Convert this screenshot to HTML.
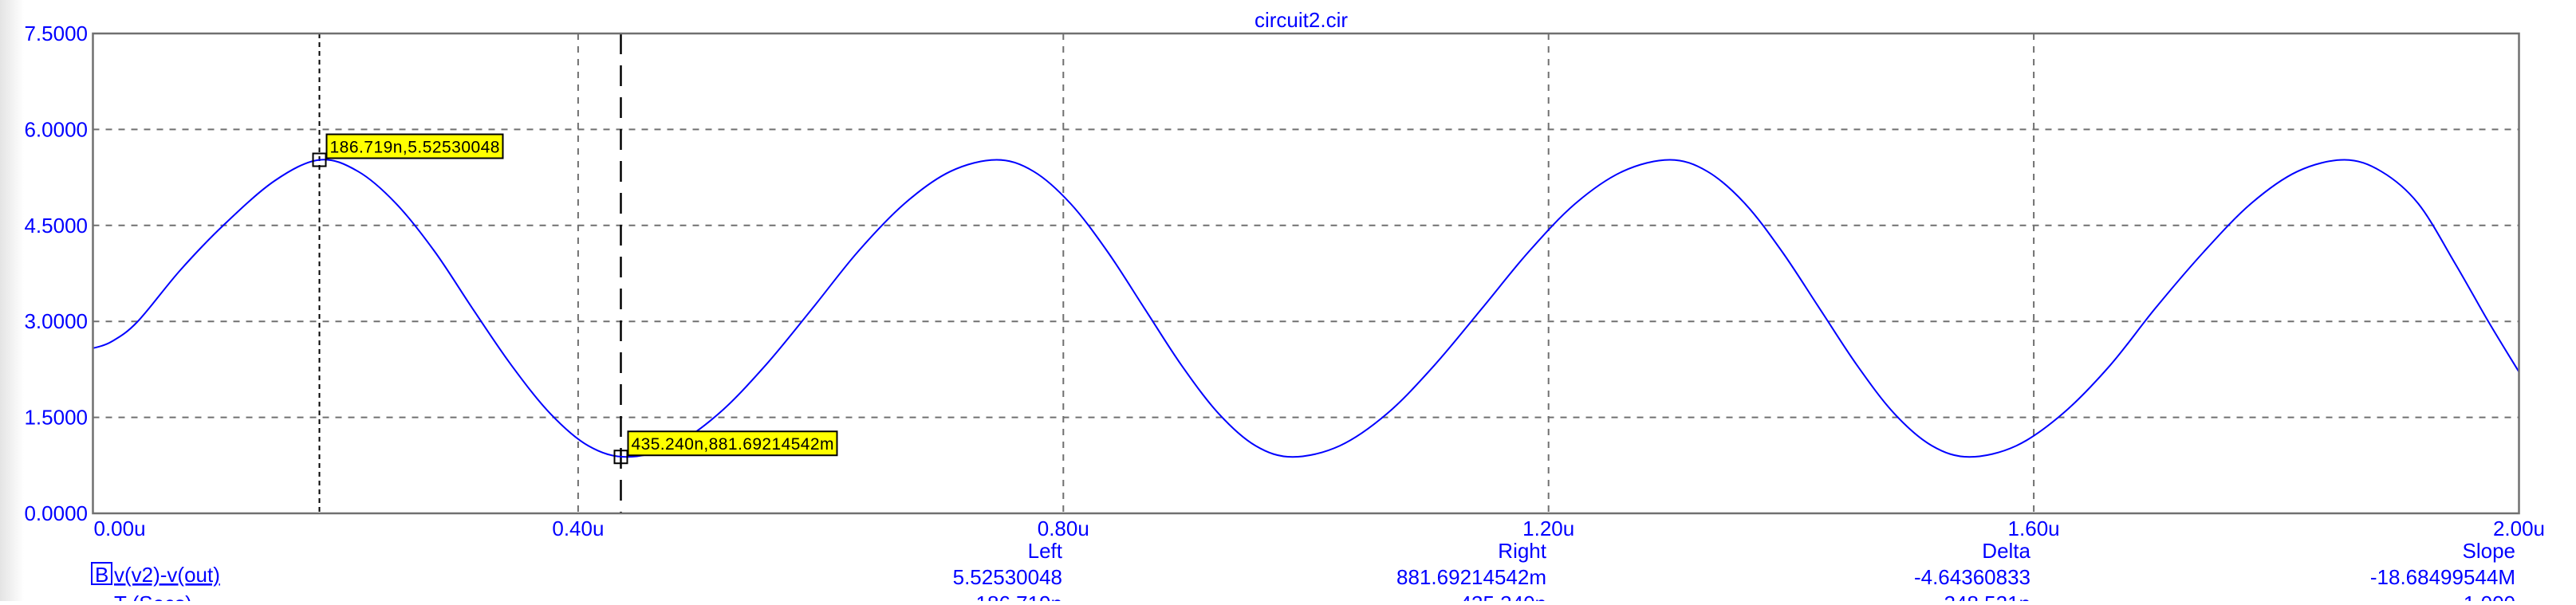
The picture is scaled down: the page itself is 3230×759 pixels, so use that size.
<!DOCTYPE html>
<html><head><meta charset="utf-8"><style>
html,body{margin:0;padding:0;background:#fff;}
body{width:3230px;height:754px;overflow:hidden;position:relative;font-family:"Liberation Sans",sans-serif;}
svg text{font-family:"Liberation Sans",sans-serif;}
</style></head><body>
<svg id="chart" width="3230" height="754" viewBox="0 0 3230 754" xmlns="http://www.w3.org/2000/svg">
<defs><linearGradient id="lg" x1="0" x2="1"><stop offset="0" stop-color="#e4e4e4"/><stop offset="1" stop-color="#fff"/></linearGradient></defs>
<rect x="0" y="0" width="30" height="754" fill="url(#lg)"/>
<g id="grid"></g>
<g id="cursors"></g>
<path id="curve" fill="none" stroke="#0000ff" stroke-width="2"/>
<rect x="116.5" y="42" width="3042" height="602" fill="none" stroke="#707070" stroke-width="2.5"/>
<g id="axes"></g>
<g id="marks"></g>
<text x="1573" y="34" font-size="26" fill="#0000ff">circuit2.cir</text>
<g font-size="26" fill="#0000ff">
<rect x="115" y="706" width="25" height="27" fill="none" stroke="#0000ff" stroke-width="2"/>
<text x="119" y="730">B</text>
<text x="143" y="730" text-decoration="underline">v(v2)-v(out)</text>
<text x="143" y="766">T (Secs)</text>
<text x="1332" y="700" text-anchor="end">Left</text>
<text x="1332" y="733" text-anchor="end">5.52530048</text>
<text x="1332" y="766" text-anchor="end">186.719n</text>
<text x="1939" y="700" text-anchor="end">Right</text>
<text x="1939" y="733" text-anchor="end">881.69214542m</text>
<text x="1939" y="766" text-anchor="end">435.240n</text>
<text x="2546" y="700" text-anchor="end">Delta</text>
<text x="2546" y="733" text-anchor="end">-4.64360833</text>
<text x="2546" y="766" text-anchor="end">248.521n</text>
<text x="3154" y="700" text-anchor="end">Slope</text>
<text x="3154" y="733" text-anchor="end">-18.68499544M</text>
<text x="3154" y="766" text-anchor="end">1.000</text>
</g>
</svg>
<script>
const times=[0,0.015,0.0365,0.072,0.108,0.15,0.187,
0.2186,0.250,0.2819,0.313,0.3451,0.377,0.4084,0.44,
0.4781,0.516,0.5544,0.593,0.6306,0.669,0.7069,0.745,
0.7755,0.806,0.8365,0.867,0.8975,0.928,0.9585,0.989,
1.0279,1.067,1.1058,1.145,1.1836,1.222,1.2611,1.300,
1.3309,1.362,1.3926,1.4235,1.4544,1.485,1.5161,1.547,
1.5856,1.624,1.6629,1.70,1.7402,1.779,1.8174,1.856,
1.8865,1.917,1.9475,1.975,2.0];
const volts=[2.58,2.68,2.99,3.8,4.51,5.2,5.525,
5.344,4.84,4.088,3.2,2.312,1.56,1.056,0.882,
1.056,1.56,2.312,3.2,4.088,4.84,5.344,5.525,
5.344,4.84,4.088,3.2,2.312,1.56,1.056,0.882,
1.056,1.56,2.312,3.2,4.088,4.84,5.344,5.525,
5.344,4.84,4.088,3.2,2.312,1.56,1.056,0.882,
1.056,1.56,2.312,3.2,4.088,4.84,5.344,5.525,
5.344,4.84,3.9,2.99,2.21];
const yTicks=[0,1.5,3,4.5,6,7.5];
const yTickLabels=["0.0000","1.5000","3.0000","4.5000","6.0000","7.5000"];
const xTicks=[0,0.4,0.8,1.2,1.6,2.0];
const xTickLabels=["0.00u","0.40u","0.80u","1.20u","1.60u","2.00u"];
const cursorT=[0.186719,0.43524];
const cursorV=[5.52530048,0.88169214542];
const cursorLabels=["186.719n,5.52530048","435.240n,881.69214542m"];
const L=116.5,R=3158.5,T=42,B=644;
const xs=t=>L+t/2.0*(R-L);
const ys=v=>B-v/7.5*(B-T);
const NS="http://www.w3.org/2000/svg";
function mk(tag,attrs,parent){const e=document.createElementNS(NS,tag);for(const k in attrs)e.setAttribute(k,attrs[k]);parent.appendChild(e);return e;}
const grid=document.getElementById('grid'),axes=document.getElementById('axes');
yTicks.forEach((v,i)=>{
 if(v>0&&v<7.5){const l=mk('line',{x1:L,x2:R,y1:ys(v),y2:ys(v),stroke:'#707070','stroke-width':2,'stroke-dasharray':'8 8'},grid);
 
 }
 const t=mk('text',{x:110,y:ys(v)+9,'text-anchor':'end','font-size':26,fill:'#0000ff'},axes);t.textContent=yTickLabels[i];
 
 
});
xTicks.forEach((x,i)=>{
 if(x>0&&x<2){const l=mk('line',{x1:xs(x),x2:xs(x),y1:T,y2:B,stroke:'#707070','stroke-width':2,'stroke-dasharray':'8 8'},grid);
 
 }
 const anchor=i==0?'start':'middle';
 const t=mk('text',{x:i==0?xs(x)+1:xs(x),y:672,'text-anchor':anchor,'font-size':26,fill:'#0000ff'},axes);t.textContent=xTickLabels[i];
 
 
});
// Catmull-Rom through data points
const P=times.map((t,i)=>[xs(t),ys(volts[i])]);
let d='M'+P[0][0]+','+P[0][1];
for(let i=0;i<P.length-1;i++){const p0=P[Math.max(0,i-1)],p1=P[i],p2=P[i+1],p3=P[Math.min(P.length-1,i+2)];
 d+=' C'+(p1[0]+(p2[0]-p0[0])/6)+','+(p1[1]+(p2[1]-p0[1])/6)+' '+(p2[0]-(p3[0]-p1[0])/6)+','+(p2[1]-(p3[1]-p1[1])/6)+' '+p2[0]+','+p2[1];}
document.getElementById('curve').setAttribute('d',d);
const cur=document.getElementById('cursors'),marks=document.getElementById('marks');
cursorT.forEach((t,i)=>{
 const l=mk('line',{x1:xs(t),x2:xs(t),y1:T,y2:B,stroke:'#000','stroke-width':i==0?2:2.5,'stroke-dasharray':i==0?'6 5':'26 14'},cur);
 
 
 const cx=xs(t),cy=ys(cursorV[i]);
 const mm=mk('rect',{x:cx-8,y:cy-8,width:16,height:16,fill:'none',stroke:'#000','stroke-width':2},marks);
 
 
 const w=i==0?221:262;
 const bx=cx+9,by=cy-32;
 const r=mk('rect',{x:bx,y:by,width:w,height:30,fill:'#ffff00',stroke:'#000','stroke-width':2},marks);
 
 
 const tx=mk('text',{x:bx+4,y:by+23,'font-size':21,fill:'#000',textLength:w-8},marks);tx.textContent=cursorLabels[i];
 
 
});
</script>
</body></html>
